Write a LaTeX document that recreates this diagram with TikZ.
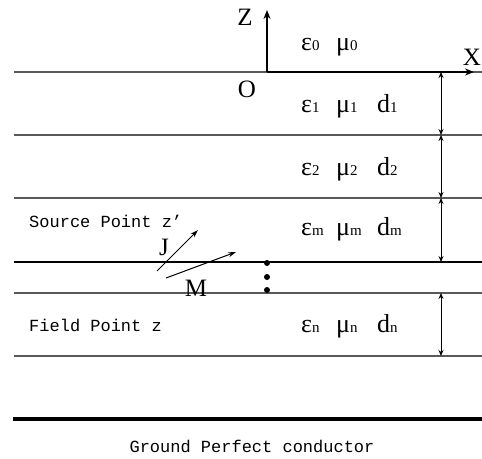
\documentclass[tikz,border=0pt]{standalone}
\usepackage{fontspec}
\setmainfont{Liberation Serif}
\setmonofont{Liberation Mono}
\usetikzlibrary{arrows.meta}
\newcommand\mysb[1]{{\fontsize{15}{15}\selectfont #1}}
\newcommand\epscol[1]{\makebox[35pt][l]{ε\mysb{#1}}}
\newcommand\mucol[1]{\makebox[41pt][l]{μ\mysb{#1}}}
\tikzset{
  layerline/.style={draw=black!65, line width=1.3pt},
  axisline/.style={draw=black, line width=2.4pt, -{Stealth[length=9pt,width=7pt]}},
  dimarrow/.style={draw=black, line width=1pt, {Stealth[length=6pt,width=5pt]}-{Stealth[length=6pt,width=5pt]}},
  vecarrow/.style={draw=black, line width=1pt, -{Stealth[length=8pt,width=5pt]}},
  axlbl/.style={inner sep=0pt, anchor=base, font=\fontsize{25}{28}\selectfont},
  matlbl/.style={inner sep=0pt, anchor=base west, font=\fontsize{26}{28}\selectfont},
  monolbl/.style={inner sep=0pt, font=\ttfamily\fontsize{17}{20}\selectfont},
  dotmark/.style={fill=black, circle, inner sep=0pt, minimum size=6pt}
}
\begin{document}
\begin{tikzpicture}[x=1pt,y=-1pt]
\useasboundingbox (0,0) rectangle (482,458);
% layer boundaries
\draw[layerline] (14,72) -- (482,72);
\draw[layerline] (14,135) -- (482,135);
\draw[layerline] (14,198) -- (482,198);
\draw[draw=black, line width=1.3pt] (14,262) -- (482,262);
\draw[layerline] (14,293) -- (482,293);
\draw[layerline] (14,356) -- (482,356);
% ground
\draw[draw=black, line width=4pt] (13,419) -- (482,419);
% axes
\coordinate (orig) at (267,72);
\coordinate (ztip) at (267,10);
\coordinate (xtip) at (474,72);
\draw[axisline] (orig) -- (ztip);
\draw[axisline] (orig) -- (xtip);
\node[axlbl] (Z) at (245,25) {Z};
\node[axlbl] (O) at (247,97) {O};
\node[axlbl] (X) at (472,65) {X};
% material labels
\node[matlbl] (L0) at (301,50) {\epscol{0}μ\mysb{0}};
\node[matlbl] (L1) at (301,112) {\epscol{1}\mucol{1}d\mysb{1}};
\node[matlbl] (L2) at (301,175) {\epscol{2}\mucol{2}d\mysb{2}};
\node[matlbl] (Lm) at (301,235) {\epscol{m}\mucol{m}d\mysb{m}};
\node[matlbl] (Ln) at (301,332) {\epscol{n}\mucol{n}d\mysb{n}};
% thickness arrows
\coordinate (a0) at (441,72);
\coordinate (a1) at (441,135);
\coordinate (a2) at (441,198);
\coordinate (a3) at (441,262);
\coordinate (a4) at (441,293);
\coordinate (a5) at (441,356);
\draw[dimarrow] (a0) -- (a1);
\draw[dimarrow] (a1) -- (a2);
\draw[dimarrow] (a2) -- (a3);
\draw[dimarrow] (a4) -- (a5);
% source and field
\node[monolbl, anchor=base west] (src) at (29,227) {Source Point z’};
\node[monolbl, anchor=base west] (fld) at (29,331) {Field Point z};
\node[monolbl, anchor=base] (gnd) at (252,452) {Ground Perfect conductor};
% J and M
\coordinate (j0) at (157,271);
\coordinate (j1) at (198,230);
\coordinate (m0) at (166,278);
\coordinate (m1) at (236,252);
\draw[vecarrow] (j0) -- (j1);
\draw[vecarrow] (m0) -- (m1);
\node[axlbl] (J) at (164,255) {J};
\node[axlbl] (M) at (196,296) {M};
% dots
\node[dotmark] (d1) at (267,263) {};
\node[dotmark] (d2) at (267,277) {};
\node[dotmark] (d3) at (267,290) {};
\end{tikzpicture}
\end{document}
